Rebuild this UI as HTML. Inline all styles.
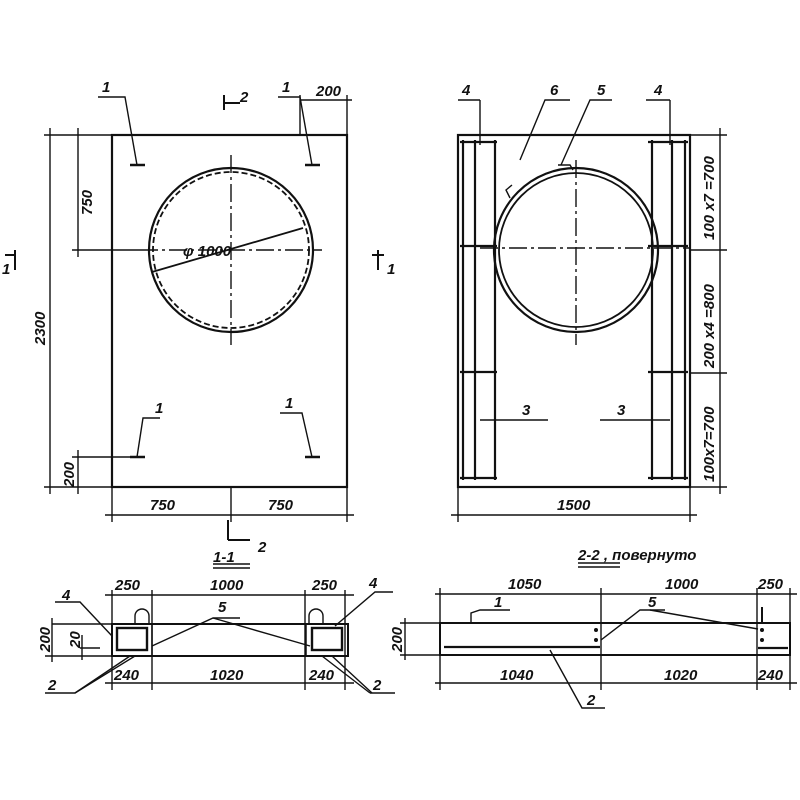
<!DOCTYPE html>
<html><head><meta charset="utf-8"><style>
html,body{margin:0;padding:0;background:#fff}
svg{display:block}
text{font-family:"Liberation Sans",sans-serif;font-style:italic;font-size:15px;fill:#111;font-weight:bold}
</style></head><body>
<svg width="800" height="800" viewBox="0 0 800 800" xmlns="http://www.w3.org/2000/svg">
<g stroke="#111" fill="none" stroke-width="1.4">
<rect x="112" y="135" width="235" height="352" stroke-width="2.2"/>
<circle cx="231" cy="250" r="82" stroke-width="2.2"/>
<circle cx="231" cy="250" r="78" stroke-dasharray="6 3" stroke-width="1.8"/>
<line x1="140" y1="250" x2="322" y2="250" stroke-dasharray="18 4 3 4"/>
<line x1="231" y1="155" x2="231" y2="345" stroke-dasharray="18 4 3 4"/>
<line x1="152" y1="272" x2="303" y2="228" stroke-width="1.8"/>
<line x1="50" y1="128" x2="50" y2="494"/>
<line x1="44" y1="135" x2="112" y2="135"/>
<line x1="44" y1="487" x2="112" y2="487"/>
<line x1="78" y1="128" x2="78" y2="257"/>
<line x1="72" y1="250" x2="140" y2="250"/>
<line x1="78" y1="450" x2="78" y2="494"/>
<line x1="72" y1="457" x2="130" y2="457"/>
<line x1="112" y1="487" x2="112" y2="522"/>
<line x1="347" y1="487" x2="347" y2="522"/>
<line x1="231" y1="487" x2="231" y2="522"/>
<line x1="105" y1="515" x2="354" y2="515"/>
<line x1="300" y1="100" x2="352" y2="100"/>
<line x1="300" y1="95" x2="300" y2="135"/>
<line x1="347" y1="95" x2="347" y2="135"/>
<polyline points="98,97 125,97 137,165"/><line x1="130" y1="165" x2="145" y2="165" stroke-width="2.5"/>
<polyline points="278,97 300,97 312,165"/><line x1="305" y1="165" x2="320" y2="165" stroke-width="2.5"/>
<polyline points="160,418 143,418 137,457"/><line x1="130" y1="457" x2="145" y2="457" stroke-width="2.5"/>
<polyline points="280,413 302,413 312,457"/><line x1="305" y1="457" x2="320" y2="457" stroke-width="2.5"/>
<line x1="5" y1="255" x2="15" y2="255" stroke-width="2"/><line x1="15" y1="250" x2="15" y2="270" stroke-width="2"/>
<line x1="372" y1="255" x2="384" y2="255" stroke-width="2"/><line x1="378" y1="250" x2="378" y2="270" stroke-width="2"/>
<line x1="224" y1="95" x2="224" y2="110" stroke-width="2"/><line x1="224" y1="103" x2="240" y2="103" stroke-width="2"/>
<line x1="228" y1="520" x2="228" y2="540" stroke-width="2"/><line x1="228" y1="540" x2="250" y2="540" stroke-width="2"/>

<rect x="458" y="135" width="232" height="352" stroke-width="2.2"/>
<circle cx="576" cy="250" r="82" stroke-width="2.2"/>
<circle cx="576" cy="250" r="77" stroke-width="1.8"/>
<line x1="480" y1="248" x2="690" y2="248" stroke-dasharray="18 4 3 4"/>
<line x1="576" y1="160" x2="576" y2="345" stroke-dasharray="18 4 3 4"/>
<g stroke-width="2.2">
<line x1="463" y1="140" x2="463" y2="480"/><line x1="475" y1="140" x2="475" y2="480"/><line x1="495" y1="140" x2="495" y2="480"/>
<line x1="460" y1="142" x2="497" y2="142"/><line x1="460" y1="246" x2="497" y2="246"/><line x1="460" y1="372" x2="497" y2="372"/><line x1="460" y1="478" x2="497" y2="478"/>
<line x1="652" y1="140" x2="652" y2="480"/><line x1="685" y1="140" x2="685" y2="480"/><line x1="672" y1="140" x2="672" y2="480"/>
<line x1="648" y1="142" x2="688" y2="142"/><line x1="648" y1="246" x2="688" y2="246"/><line x1="648" y1="372" x2="688" y2="372"/><line x1="648" y1="478" x2="688" y2="478"/>
</g>
<line x1="480" y1="100" x2="480" y2="145"/><polyline points="458,100 480,100"/>
<line x1="670" y1="100" x2="670" y2="145"/><polyline points="646,100 670,100"/>
<polyline points="520,160 545,100 570,100"/>
<polyline points="561,165 590,100 612,100"/>
<polyline points="558,165 570,165 573,170"/>
<polyline points="510,198 506,190 512,185"/>
<polyline points="480,420 548,420"/><polyline points="600,420 670,420"/>
<line x1="720" y1="128" x2="720" y2="494"/>
<line x1="690" y1="135" x2="727" y2="135"/><line x1="690" y1="250" x2="727" y2="250"/><line x1="690" y1="373" x2="727" y2="373"/><line x1="690" y1="487" x2="727" y2="487"/>
<line x1="458" y1="487" x2="458" y2="522"/><line x1="690" y1="487" x2="690" y2="522"/>
<line x1="451" y1="515" x2="697" y2="515"/>

<line x1="213" y1="564" x2="250" y2="564" stroke-width="1.5"/><line x1="213" y1="568" x2="250" y2="568" stroke-width="1.5"/>
<rect x="112" y="624" width="236" height="32" stroke-width="2"/>
<rect x="112" y="624" width="40" height="32" stroke-width="1.5"/><rect x="306" y="624" width="42" height="32" stroke-width="1.5"/>
<rect x="117" y="628" width="30" height="22" stroke-width="2.4"/><rect x="312" y="628" width="30" height="22" stroke-width="2.4"/>
<path d="M135 624 v-8 a7 7 0 0 1 14 0 v8"/><path d="M309 624 v-8 a7 7 0 0 1 14 0 v8"/>
<line x1="105" y1="595" x2="354" y2="595"/>
<line x1="112" y1="590" x2="112" y2="624"/><line x1="152" y1="590" x2="152" y2="690"/><line x1="305" y1="590" x2="305" y2="690"/><line x1="345" y1="590" x2="345" y2="690"/>
<line x1="105" y1="683" x2="354" y2="683"/><line x1="112" y1="656" x2="112" y2="690"/>
<line x1="52" y1="624" x2="112" y2="624"/><line x1="45" y1="656" x2="112" y2="656"/><line x1="52" y1="618" x2="52" y2="662"/>
<line x1="80" y1="648" x2="100" y2="648"/><line x1="82" y1="635" x2="82" y2="660"/>
<polyline points="55,602 80,602 112,636"/><polyline points="393,592 375,592 335,626"/>
<polyline points="152,646 213,618 240,618"/><polyline points="213,618 310,646"/>
<polyline points="45,693 75,693 135,656"/><line x1="75" y1="693" x2="130" y2="656"/>
<polyline points="370,693 395,693"/><line x1="370" y1="693" x2="322" y2="656"/><line x1="372" y1="693" x2="332" y2="656"/>
<line x1="578" y1="563" x2="620" y2="563" stroke-width="1.5"/><line x1="578" y1="567" x2="620" y2="567" stroke-width="1.5"/>
<rect x="440" y="623" width="350" height="32" stroke-width="2"/>
<line x1="601" y1="588" x2="601" y2="690"/><line x1="757" y1="588" x2="757" y2="690"/><line x1="790" y1="588" x2="790" y2="690"/>
<line x1="440" y1="588" x2="440" y2="690"/>
<line x1="435" y1="594" x2="797" y2="594"/><line x1="435" y1="683" x2="797" y2="683"/>
<line x1="444" y1="647" x2="600" y2="647" stroke-width="2.2"/><line x1="758" y1="648" x2="788" y2="648" stroke-width="2.2"/>
<line x1="400" y1="623" x2="440" y2="623"/><line x1="400" y1="655" x2="440" y2="655"/><line x1="405" y1="618" x2="405" y2="660"/>
<polyline points="471,622 471,613 480,610 510,610"/><line x1="762" y1="607" x2="762" y2="622" stroke-width="2"/>
<polyline points="601,640 640,610 665,610"/><line x1="650" y1="610" x2="758" y2="629"/>
<polyline points="550,650 582,708 605,708"/>
</g>
<g fill="#111">
<circle cx="596" cy="630" r="2"/><circle cx="596" cy="640" r="2"/><circle cx="762" cy="630" r="2"/><circle cx="762" cy="640" r="2"/>
</g>
<text x="102" y="92">1</text><text x="282" y="92">1</text><text x="240" y="102">2</text>
<text x="316" y="96" font-size="13">200</text>
<text x="155" y="413">1</text><text x="285" y="408">1</text>
<text x="2" y="274">1</text><text x="387" y="274">1</text>
<text x="183" y="256" font-size="17">φ 1000</text>
<text transform="translate(92,215) rotate(-90)" font-size="16">750</text>
<text transform="translate(45,345) rotate(-90)" font-size="16">2300</text>
<text transform="translate(74,487) rotate(-90)" font-size="12">200</text>
<text x="150" y="510" font-size="16">750</text><text x="268" y="510" font-size="16">750</text>
<text x="462" y="95">4</text><text x="654" y="95">4</text><text x="550" y="95">6</text><text x="597" y="95">5</text>
<text x="522" y="415" font-size="17">3</text><text x="617" y="415" font-size="17">3</text>
<text x="557" y="510" font-size="16">1500</text>
<text transform="translate(714,240) rotate(-90)" font-size="13">100 x7 =700</text>
<text transform="translate(714,368) rotate(-90)" font-size="13">200 x4 =800</text>
<text transform="translate(714,482) rotate(-90)" font-size="13">100x7=700</text>
<text x="213" y="562" font-size="16">1-1</text><text x="258" y="552">2</text>
<text x="115" y="590" font-size="15">250</text><text x="210" y="590" font-size="15">1000</text><text x="312" y="590" font-size="15">250</text>
<text x="62" y="600" font-size="16">4</text><text x="369" y="588" font-size="16">4</text><text x="218" y="612" font-size="16">5</text>
<text x="114" y="680" font-size="15">240</text><text x="210" y="680" font-size="15">1020</text><text x="309" y="680" font-size="15">240</text>
<text x="48" y="690" font-size="16">2</text><text x="373" y="690" font-size="16">2</text>
<text transform="translate(50,652) rotate(-90)" font-size="11">200</text>
<text transform="translate(80,648) rotate(-90)" font-size="11">20</text>
<text x="578" y="560" font-size="16">2-2 , повернуто</text>
<text x="508" y="589" font-size="15">1050</text><text x="665" y="589" font-size="15">1000</text><text x="758" y="589" font-size="15">250</text>
<text x="494" y="607" font-size="15">1</text><text x="648" y="607" font-size="15">5</text>
<text x="500" y="680" font-size="15">1040</text><text x="664" y="680" font-size="15">1020</text><text x="758" y="680" font-size="15">240</text>
<text x="587" y="705" font-size="16">2</text>
<text transform="translate(402,652) rotate(-90)" font-size="11">200</text>
</svg>
</body></html>
